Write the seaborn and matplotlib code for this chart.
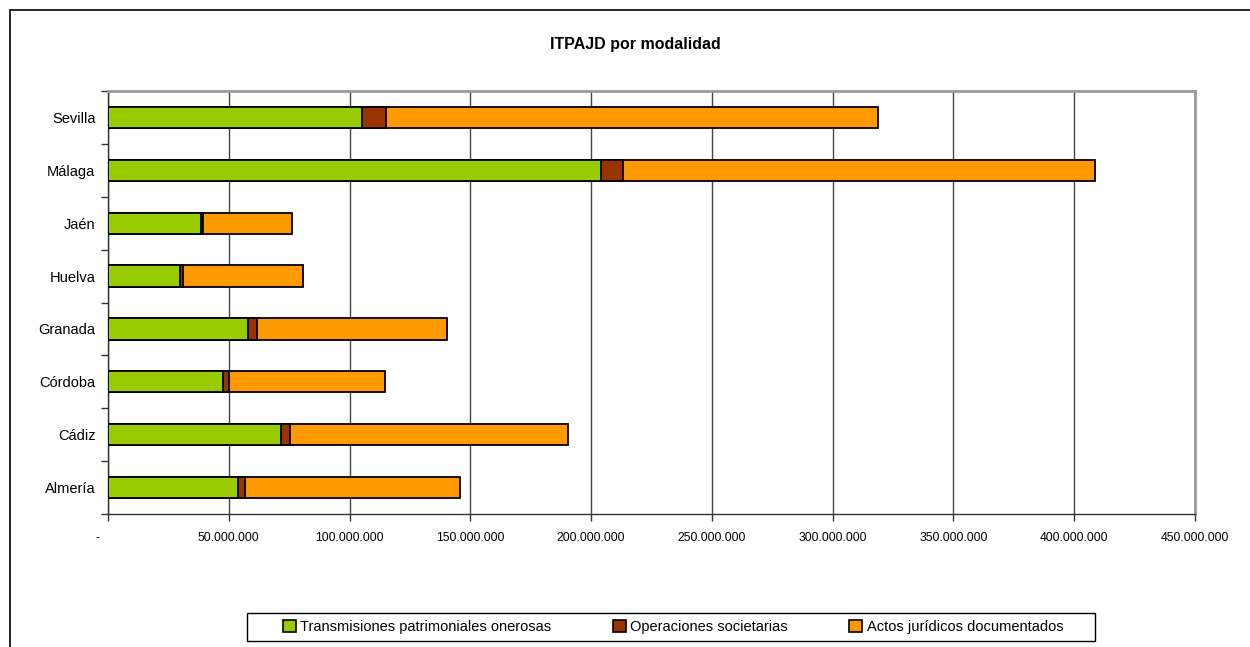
import matplotlib
matplotlib.use("Agg")
import matplotlib.pyplot as plt
from matplotlib.patches import Patch, Rectangle
from matplotlib.lines import Line2D
import numpy as np
import seaborn as sns

provincias = ["Sevilla", "Málaga", "Jaén", "Huelva", "Granada", "Córdoba", "Cádiz", "Almería"]
# millions of euros
transmisiones = [105.2, 204.1, 38.3, 29.6, 57.9, 47.7, 71.7, 54.0]
operaciones = [9.9, 9.2, 1.1, 1.3, 3.9, 2.2, 3.6, 2.8]
actos = [203.7, 195.4, 36.6, 49.8, 78.5, 64.9, 115.1, 88.8]
series_labels = ["Transmisiones patrimoniales onerosas", "Operaciones societarias",
                 "Actos jurídicos documentados"]
colors = ["#99CC00", "#993300", "#FF9900"]
xticks = np.arange(0, 450_000_001, 50_000_000)

sns.set_style("white")
plt.rcParams["font.family"] = ["Liberation Sans", "DejaVu Sans"]
plt.rcParams["text.color"] = "black"
plt.rcParams["xtick.color"] = "black"
plt.rcParams["ytick.color"] = "black"

fig = plt.figure(figsize=(12.5, 6.47), dpi=100)
ax = fig.add_axes([108 / 1250, 1 - 514 / 647, (1195 - 108) / 1250, (514 - 91) / 647])

tp = np.array(transmisiones) * 1e6
op = np.array(operaciones) * 1e6
ac = np.array(actos) * 1e6
stacks = [tp + op + ac, tp + op, tp]

# draw cumulative totals from the largest down so segments stack
for total, col in zip(stacks, colors[::-1]):
    sns.barplot(x=total, y=provincias, orient="h", color=col, width=0.4,
                edgecolor="black", linewidth=1.3, saturation=1, ax=ax, zorder=3)

ax.set_xlim(0, 450_000_000)
ax.set_ylim(7.5, -0.5)
ax.set_xticks(xticks)
ax.set_xticklabels(["-      "] + [f"{v:,.0f}".replace(",", ".") for v in xticks[1:]], fontsize=8.7)
ax.set_yticks(range(len(provincias)))
ax.set_yticklabels(provincias, fontsize=10.5)
ax.set_xlabel("")
ax.set_ylabel("")

# category boundary ticks on the y axis
ax.set_yticks(np.arange(-0.5, len(provincias), 1), minor=True)
ax.tick_params(axis="y", which="major", left=False, length=0, pad=9)
ax.tick_params(axis="y", which="minor", left=True, length=5, width=1, color="#333333", direction="out")
ax.tick_params(axis="x", which="major", bottom=True, length=5, width=1, color="#333333",
               labelcolor="black", direction="out", pad=8)

ax.grid(axis="x", color="#444444", linewidth=1, zorder=0)
ax.set_axisbelow(True)
for side in ["top", "right"]:
    ax.spines[side].set_color("#999999")
    ax.spines[side].set_linewidth(2)
for side in ["left", "bottom"]:
    ax.spines[side].set_color("#333333")
    ax.spines[side].set_linewidth(1)

fig.text(635 / 1250, 1 - 45 / 647, "ITPAJD por modalidad", ha="center", va="center",
         fontsize=11.5, fontweight="bold", color="black")

handles = [Patch(facecolor=c, edgecolor="black", linewidth=1.2) for c in colors]
leg = fig.legend(handles, series_labels, loc="center", ncol=3,
                 bbox_to_anchor=(673 / 1250, 1 - 627 / 647), frameon=False,
                 fontsize=10.5, handlelength=0.9, handleheight=0.9,
                 handletextpad=0.3, columnspacing=4.2, borderpad=0.2, borderaxespad=0)
for t in leg.get_texts():
    t.set_color("black")
# legend box, wider than the entries as in the original
fig.add_artist(Rectangle((247 / 1250, 1 - 641 / 647), (1095 - 247) / 1250, 28 / 647,
                         fill=False, edgecolor="black", linewidth=1, transform=fig.transFigure))

# outer chart frame (top and left edges visible)
fig.add_artist(Line2D([10 / 1250, 1], [1 - 10 / 647, 1 - 10 / 647], color="black",
                      linewidth=1.2, transform=fig.transFigure))
fig.add_artist(Line2D([10 / 1250, 10 / 1250], [0, 1 - 10 / 647], color="black",
                      linewidth=1.2, transform=fig.transFigure))

fig.savefig("out.png", dpi=100)
